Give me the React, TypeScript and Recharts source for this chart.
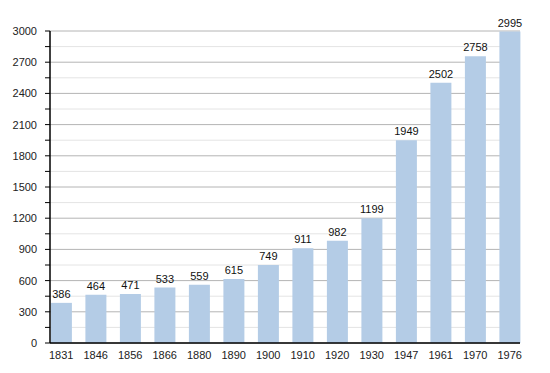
import { Bar, BarChart, CartesianGrid, LabelList, XAxis, YAxis } from "recharts";

const years = ["1831", "1846", "1856", "1866", "1880", "1890", "1900", "1910", "1920", "1930", "1947", "1961", "1970", "1976"];
const population = [386, 464, 471, 533, 559, 615, 749, 911, 982, 1199, 1949, 2502, 2758, 2995];
const yTicks = [0, 150, 300, 450, 600, 750, 900, 1050, 1200, 1350, 1500, 1650, 1800, 1950, 2100, 2250, 2400, 2550, 2700, 2850, 3000];

const data = years.map((year, i) => ({ year, value: population[i] }));

const font = "'Liberation Sans', Arial, sans-serif";

function gridLine(props: any) {
  const { x1, x2, y1, y2, index } = props;
  const major = index % 2 === 0;
  return (
    <line
      key={`grid-${index}`}
      x1={x1}
      x2={x2}
      y1={y1}
      y2={y2}
      stroke={major ? "#b4b4b4" : "#e4e4e4"}
      strokeWidth={1}
    />
  );
}

export default function App() {
  return (
    <div style={{ position: "absolute", left: 0, top: 0, background: "#fff" }}>
      <BarChart
        width={550}
        height={373}
        data={data}
        margin={{ top: 31, right: 30, left: 0, bottom: 0 }}
        barCategoryGap="20%"
        style={{ fontFamily: font }}
      >
        <CartesianGrid vertical={false} horizontal={gridLine} />
        <XAxis
          dataKey="year"
          height={30}
          padding={{ left: -6, right: -7 }}
          tickLine={false}
          axisLine={{ stroke: "#000", strokeWidth: 1.5 }}
          tick={{ fontSize: 11, fill: "#222" }}
          tickMargin={2}
          interval={0}
        />
        <YAxis
          width={50}
          domain={[0, 3000]}
          ticks={yTicks}
          interval={0}
          tickFormatter={(v: number) => (v % 300 === 0 ? String(v) : "")}
          tickSize={5}
          tickMargin={8}
          tickLine={{ stroke: "#000" }}
          axisLine={{ stroke: "#000", strokeWidth: 1.5 }}
          tick={{ fontSize: 11, fill: "#222" }}
        />
        <Bar dataKey="value" fill="#b4cce6" isAnimationActive={false}>
          <LabelList dataKey="value" position="top" offset={5} style={{ fontSize: 11, fill: "#111" }} />
        </Bar>
      </BarChart>
    </div>
  );
}
